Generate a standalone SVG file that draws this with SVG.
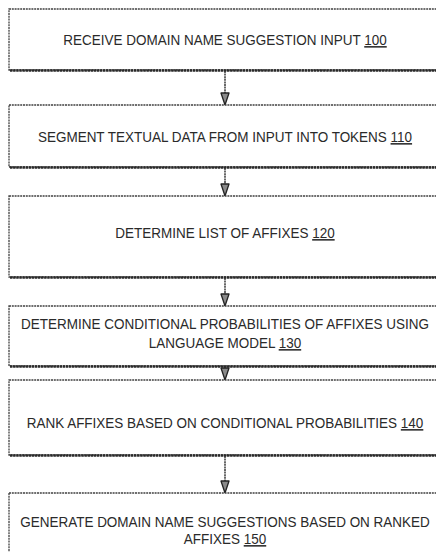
<svg xmlns="http://www.w3.org/2000/svg" width="436" height="552" viewBox="0 0 436 552">
  <style>
    .box { fill: #ffffff; stroke: #404040; stroke-width: 1.3; stroke-dasharray: 2 0.8; }
    .shadow { stroke: #2a2a2a; stroke-width: 2.6; fill: none; stroke-dasharray: 2.5 0.6; }
    .lbl { font-family: "Liberation Sans", Arial, sans-serif; font-size: 13.5px; fill: #2a2a2a; text-anchor: middle; }
    .ref { text-decoration: underline; }
    .conn { stroke: #2a2a2a; stroke-width: 1.4; fill: none; stroke-dasharray: 2 0.6; }
  </style>
  <defs>
    <!-- filled arrowhead drawn along +x so orient="auto" points it down the line -->
    <marker id="arrow" markerWidth="14" markerHeight="10" refX="13" refY="5" orient="auto" markerUnits="userSpaceOnUse" viewBox="0 0 14 10">
      <path d="M1,1 L13,5 L1,9 Z" fill="#8a8a8a" stroke="#222" stroke-width="1.3" stroke-linejoin="round"/>
    </marker>
  </defs>
  <rect width="436" height="552" fill="#ffffff"/>

  <!-- flow connectors -->
  <g id="connectors">
    <line class="conn" x1="225" y1="71" x2="225" y2="105" marker-end="url(#arrow)"/>
    <line class="conn" x1="225" y1="168" x2="225" y2="196" marker-end="url(#arrow)"/>
    <line class="conn" x1="225" y1="278" x2="225" y2="306" marker-end="url(#arrow)"/>
    <line class="conn" x1="225" y1="367" x2="225" y2="380" marker-end="url(#arrow)"/>
    <line class="conn" x1="225" y1="456" x2="225" y2="493" marker-end="url(#arrow)"/>
  </g>

  <g id="step100">
    <rect class="box" x="9" y="9" width="432" height="61"/>
    <line class="shadow" x1="10" y1="70.5" x2="441" y2="70.5"/>
    <text class="lbl" transform="translate(225,45) scale(1,1.15)">RECEIVE DOMAIN NAME SUGGESTION INPUT <tspan class="ref">100</tspan></text>
  </g>

  <g id="step110">
    <rect class="box" x="9" y="105" width="432" height="62"/>
    <line class="shadow" x1="10" y1="167.5" x2="441" y2="167.5"/>
    <text class="lbl" transform="translate(225,142) scale(1,1.15)">SEGMENT TEXTUAL DATA FROM INPUT INTO TOKENS <tspan class="ref">110</tspan></text>
  </g>

  <g id="step120">
    <rect class="box" x="9" y="196" width="432" height="81"/>
    <line class="shadow" x1="10" y1="277.5" x2="441" y2="277.5"/>
    <text class="lbl" transform="translate(225,238) scale(1,1.15)">DETERMINE LIST OF AFFIXES  <tspan class="ref">120</tspan></text>
  </g>

  <g id="step130">
    <rect class="box" x="9" y="306" width="432" height="60"/>
    <line class="shadow" x1="10" y1="366.5" x2="441" y2="366.5"/>
    <text class="lbl" transform="translate(225,329) scale(1,1.15)">DETERMINE CONDITIONAL PROBABILITIES OF AFFIXES USING</text>
    <text class="lbl" transform="translate(225,348) scale(1,1.15)">LANGUAGE MODEL  <tspan class="ref">130</tspan></text>
  </g>

  <g id="step140">
    <rect class="box" x="9" y="380" width="432" height="75"/>
    <line class="shadow" x1="10" y1="455.5" x2="441" y2="455.5"/>
    <text class="lbl" transform="translate(225,428) scale(1,1.15)">RANK AFFIXES BASED ON CONDITIONAL PROBABILITIES <tspan class="ref">140</tspan></text>
  </g>

  <g id="step150">
    <rect class="box" x="9" y="493" width="432" height="80"/>
    <text class="lbl" transform="translate(225,527) scale(1,1.15)">GENERATE DOMAIN NAME SUGGESTIONS BASED ON RANKED</text>
    <text class="lbl" transform="translate(225,544) scale(1,1.15)">AFFIXES <tspan class="ref">150</tspan></text>
  </g>
</svg>
